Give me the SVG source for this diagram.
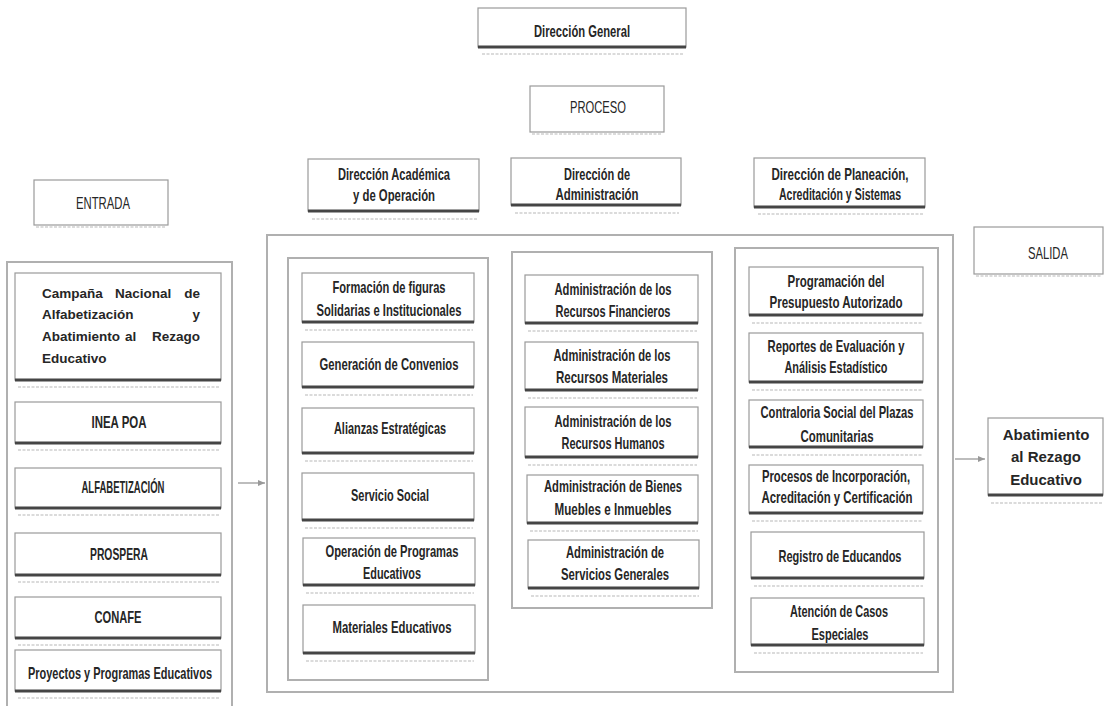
<svg xmlns="http://www.w3.org/2000/svg" width="1105" height="706" viewBox="0 0 1105 706">
<style>
.bg{fill:#ffffff}
.box{fill:#ffffff;stroke:#9a9a9a;stroke-width:1.2}
.sh{stroke:#454545;stroke-width:3}
.fl{stroke:#cfcfcf;stroke-width:1.3;stroke-dasharray:3 1.5}
.cont{fill:none;stroke:#b0b0b0;stroke-width:2}
.t{font-family:"Liberation Sans Narrow","Liberation Sans",Arial,sans-serif;font-size:16.5px;font-weight:bold;fill:#262626;text-anchor:middle}
.n{font-weight:normal}
.s{text-anchor:start;font-size:13.5px}
.e{text-anchor:end;font-size:13.5px}
.a{font-size:15px}
.arr{stroke:#999999;stroke-width:1.3;fill:none}
</style>
<defs>
<marker id="ah" markerWidth="8" markerHeight="8" refX="7" refY="4" orient="auto" markerUnits="userSpaceOnUse">
<path d="M0,1 L7,4 L0,7 Z" fill="#999999"/>
</marker>
</defs>
<rect class="bg" x="0" y="0" width="1105" height="706"/>

<g id="containers">
<rect class="cont" x="7" y="262" width="225" height="452"/>
<rect class="cont" x="267" y="235" width="686" height="457"/>
<rect class="cont" x="288" y="258" width="200" height="422"/>
<rect class="cont" x="512" y="252" width="200" height="356"/>
<rect class="cont" x="735" y="248" width="203" height="424"/>
</g>

<g id="direccion-general">
<rect class="box" x="478" y="8" width="208" height="39"/>
<line class="sh" x1="478" y1="47" x2="686" y2="47"/>
<line class="fl" x1="482" y1="54" x2="684" y2="54"/>
<text class="t" x="582" y="37" textLength="96" lengthAdjust="spacingAndGlyphs">Dirección General</text>
</g>

<g id="proceso">
<rect class="box" x="530" y="86" width="134" height="46"/>
<line class="fl" x1="532" y1="134" x2="662" y2="134"/>
<text class="t n" x="598" y="113" textLength="56" lengthAdjust="spacingAndGlyphs">PROCESO</text>
</g>

<g id="entrada">
<rect class="box" x="34" y="180" width="134" height="45"/>
<line class="fl" x1="36" y1="227" x2="166" y2="227"/>
<text class="t n" x="103" y="209" textLength="54" lengthAdjust="spacingAndGlyphs">ENTRADA</text>
</g>

<g id="salida">
<rect class="box" x="974" y="227" width="129" height="47"/>
<line class="fl" x1="976" y1="276" x2="1101" y2="276"/>
<text class="t n" x="1048" y="259" textLength="40" lengthAdjust="spacingAndGlyphs">SALIDA</text>
</g>

<g id="dir-academica">
<rect class="box" x="308" y="159" width="171" height="52"/>
<line class="sh" x1="308" y1="211" x2="479" y2="211"/>
<line class="fl" x1="312" y1="219" x2="477" y2="219"/>
<text class="t" x="394" y="180" textLength="112" lengthAdjust="spacingAndGlyphs">Dirección Académica</text>
<text class="t" x="394" y="201" textLength="82" lengthAdjust="spacingAndGlyphs">y de Operación</text>
</g>

<g id="dir-administracion">
<rect class="box" x="511" y="158" width="170" height="47"/>
<line class="sh" x1="511" y1="205" x2="681" y2="205"/>
<line class="fl" x1="515" y1="213" x2="679" y2="213"/>
<text class="t" x="597" y="180" textLength="66" lengthAdjust="spacingAndGlyphs">Dirección de</text>
<text class="t" x="597" y="200" textLength="83" lengthAdjust="spacingAndGlyphs">Administración</text>
</g>

<g id="dir-planeacion">
<rect class="box" x="754" y="158" width="171" height="49"/>
<line class="sh" x1="754" y1="207" x2="925" y2="207"/>
<line class="fl" x1="758" y1="214" x2="923" y2="214"/>
<text class="t" x="840" y="180" textLength="137" lengthAdjust="spacingAndGlyphs">Dirección de Planeación,</text>
<text class="t" x="840" y="200" textLength="122" lengthAdjust="spacingAndGlyphs">Acreditación y Sistemas</text>
</g>

<!-- Left column (ENTRADA items) -->
<g id="campana">
<rect class="box" x="15" y="273" width="206" height="107"/>
<line class="sh" x1="15" y1="380" x2="221" y2="380"/>
<line class="fl" x1="18" y1="387" x2="220" y2="387"/>
<text class="t s" x="42" y="298">Campaña</text>
<text class="t s" x="115" y="298">Nacional</text>
<text class="t e" x="200" y="298">de</text>
<text class="t s" x="42" y="319">Alfabetización</text>
<text class="t e" x="200" y="319">y</text>
<text class="t s" x="42" y="341">Abatimiento</text>
<text class="t s" x="125" y="341">al</text>
<text class="t e" x="200" y="341">Rezago</text>
<text class="t s" x="42" y="363">Educativo</text>
</g>

<g id="inea-poa">
<rect class="box" x="15" y="402" width="206" height="41"/>
<line class="sh" x1="15" y1="443" x2="221" y2="443"/>
<line class="fl" x1="18" y1="450" x2="220" y2="450"/>
<text class="t" x="119" y="428" textLength="55" lengthAdjust="spacingAndGlyphs">INEA POA</text>
</g>

<g id="alfabetizacion">
<rect class="box" x="15" y="468" width="206" height="40"/>
<line class="sh" x1="15" y1="508" x2="221" y2="508"/>
<line class="fl" x1="18" y1="515" x2="220" y2="515"/>
<text class="t" x="123" y="493" textLength="83" lengthAdjust="spacingAndGlyphs">ALFABETIZACIÓN</text>
</g>

<g id="prospera">
<rect class="box" x="15" y="533" width="206" height="42"/>
<line class="sh" x1="15" y1="575" x2="221" y2="575"/>
<line class="fl" x1="18" y1="582" x2="220" y2="582"/>
<text class="t" x="119" y="560" textLength="58" lengthAdjust="spacingAndGlyphs">PROSPERA</text>
</g>

<g id="conafe">
<rect class="box" x="15" y="597" width="206" height="41"/>
<line class="sh" x1="15" y1="638" x2="221" y2="638"/>
<line class="fl" x1="18" y1="645" x2="220" y2="645"/>
<text class="t" x="118" y="623" textLength="47" lengthAdjust="spacingAndGlyphs">CONAFE</text>
</g>

<g id="proyectos">
<rect class="box" x="15" y="650" width="206" height="41"/>
<line class="sh" x1="15" y1="691" x2="221" y2="691"/>
<line class="fl" x1="18" y1="698" x2="220" y2="698"/>
<text class="t" x="120" y="679" textLength="184" lengthAdjust="spacingAndGlyphs">Proyectos y Programas Educativos</text>
</g>

<!-- Column 1 -->
<g id="formacion">
<rect class="box" x="302" y="273" width="172" height="49"/>
<line class="sh" x1="302" y1="322" x2="474" y2="322"/>
<line class="fl" x1="305" y1="330" x2="473" y2="330"/>
<text class="t" x="389" y="293" textLength="113" lengthAdjust="spacingAndGlyphs">Formación de figuras</text>
<text class="t" x="389" y="316" textLength="145" lengthAdjust="spacingAndGlyphs">Solidarias e Institucionales</text>
</g>
<g id="generacion">
<rect class="box" x="302" y="342" width="172" height="45"/>
<line class="sh" x1="302" y1="387" x2="474" y2="387"/>
<line class="fl" x1="305" y1="395" x2="473" y2="395"/>
<text class="t" x="389" y="370" textLength="139" lengthAdjust="spacingAndGlyphs">Generación de Convenios</text>
</g>
<g id="alianzas">
<rect class="box" x="302" y="408" width="172" height="45"/>
<line class="sh" x1="302" y1="453" x2="474" y2="453"/>
<line class="fl" x1="305" y1="461" x2="473" y2="461"/>
<text class="t" x="390" y="434" textLength="112" lengthAdjust="spacingAndGlyphs">Alianzas Estratégicas</text>
</g>
<g id="servicio-social">
<rect class="box" x="302" y="473" width="172" height="47"/>
<line class="sh" x1="302" y1="520" x2="474" y2="520"/>
<line class="fl" x1="305" y1="528" x2="473" y2="528"/>
<text class="t" x="390" y="501" textLength="78" lengthAdjust="spacingAndGlyphs">Servicio Social</text>
</g>
<g id="operacion">
<rect class="box" x="303" y="538" width="172" height="47"/>
<line class="sh" x1="303" y1="585" x2="475" y2="585"/>
<line class="fl" x1="306" y1="593" x2="474" y2="593"/>
<text class="t" x="392" y="557" textLength="133" lengthAdjust="spacingAndGlyphs">Operación de Programas</text>
<text class="t" x="392" y="579" textLength="58" lengthAdjust="spacingAndGlyphs">Educativos</text>
</g>
<g id="materiales">
<rect class="box" x="303" y="605" width="172" height="48"/>
<line class="sh" x1="303" y1="653" x2="475" y2="653"/>
<line class="fl" x1="306" y1="661" x2="474" y2="661"/>
<text class="t" x="392" y="633" textLength="119" lengthAdjust="spacingAndGlyphs">Materiales Educativos</text>
</g>

<!-- Column 2 -->
<g id="adm-financieros">
<rect class="box" x="525" y="275" width="173" height="48"/>
<line class="sh" x1="525" y1="323" x2="698" y2="323"/>
<line class="fl" x1="528" y1="331" x2="697" y2="331"/>
<text class="t" x="613" y="295" textLength="117" lengthAdjust="spacingAndGlyphs">Administración de los</text>
<text class="t" x="613" y="317" textLength="115" lengthAdjust="spacingAndGlyphs">Recursos Financieros</text>
</g>
<g id="adm-materiales">
<rect class="box" x="525" y="342" width="173" height="48"/>
<line class="sh" x1="525" y1="390" x2="698" y2="390"/>
<line class="fl" x1="528" y1="398" x2="697" y2="398"/>
<text class="t" x="612" y="361" textLength="117" lengthAdjust="spacingAndGlyphs">Administración de los</text>
<text class="t" x="612" y="383" textLength="112" lengthAdjust="spacingAndGlyphs">Recursos Materiales</text>
</g>
<g id="adm-humanos">
<rect class="box" x="525" y="407" width="173" height="50"/>
<line class="sh" x1="525" y1="457" x2="698" y2="457"/>
<line class="fl" x1="528" y1="465" x2="697" y2="465"/>
<text class="t" x="613" y="427" textLength="117" lengthAdjust="spacingAndGlyphs">Administración de los</text>
<text class="t" x="613" y="449" textLength="103" lengthAdjust="spacingAndGlyphs">Recursos Humanos</text>
</g>
<g id="adm-bienes">
<rect class="box" x="527" y="475" width="171" height="48"/>
<line class="sh" x1="527" y1="523" x2="698" y2="523"/>
<line class="fl" x1="530" y1="531" x2="698" y2="531"/>
<text class="t" x="613" y="492" textLength="138" lengthAdjust="spacingAndGlyphs">Administración de Bienes</text>
<text class="t" x="613" y="515" textLength="117" lengthAdjust="spacingAndGlyphs">Muebles e Inmuebles</text>
</g>
<g id="adm-servicios">
<rect class="box" x="528" y="540" width="171" height="48"/>
<line class="sh" x1="528" y1="588" x2="699" y2="588"/>
<line class="fl" x1="531" y1="596" x2="699" y2="596"/>
<text class="t" x="615" y="558" textLength="98" lengthAdjust="spacingAndGlyphs">Administración de</text>
<text class="t" x="615" y="580" textLength="108" lengthAdjust="spacingAndGlyphs">Servicios Generales</text>
</g>

<!-- Column 3 -->
<g id="programacion">
<rect class="box" x="749" y="267" width="174" height="48"/>
<line class="sh" x1="749" y1="315" x2="923" y2="315"/>
<line class="fl" x1="752" y1="323" x2="922" y2="323"/>
<text class="t" x="836" y="287" textLength="97" lengthAdjust="spacingAndGlyphs">Programación del</text>
<text class="t" x="836" y="308" textLength="133" lengthAdjust="spacingAndGlyphs">Presupuesto Autorizado</text>
</g>
<g id="reportes">
<rect class="box" x="749" y="333" width="174" height="49"/>
<line class="sh" x1="749" y1="382" x2="923" y2="382"/>
<line class="fl" x1="752" y1="390" x2="922" y2="390"/>
<text class="t" x="836" y="352" textLength="137" lengthAdjust="spacingAndGlyphs">Reportes de Evaluación y</text>
<text class="t" x="836" y="373" textLength="103" lengthAdjust="spacingAndGlyphs">Análisis Estadístico</text>
</g>
<g id="contraloria">
<rect class="box" x="749" y="400" width="174" height="47"/>
<line class="sh" x1="749" y1="447" x2="923" y2="447"/>
<line class="fl" x1="752" y1="455" x2="922" y2="455"/>
<text class="t" x="837" y="418" textLength="153" lengthAdjust="spacingAndGlyphs">Contraloria Social del Plazas</text>
<text class="t" x="837" y="442" textLength="73" lengthAdjust="spacingAndGlyphs">Comunitarias</text>
</g>
<g id="procesos">
<rect class="box" x="749" y="465" width="174" height="48"/>
<line class="sh" x1="749" y1="513" x2="923" y2="513"/>
<line class="fl" x1="752" y1="521" x2="922" y2="521"/>
<text class="t" x="836" y="482" textLength="148" lengthAdjust="spacingAndGlyphs">Procesos de Incorporación,</text>
<text class="t" x="837" y="503" textLength="151" lengthAdjust="spacingAndGlyphs">Acreditación y Certificación</text>
</g>
<g id="registro">
<rect class="box" x="751" y="532" width="173" height="46"/>
<line class="sh" x1="751" y1="578" x2="924" y2="578"/>
<line class="fl" x1="754" y1="586" x2="923" y2="586"/>
<text class="t" x="840" y="562" textLength="123" lengthAdjust="spacingAndGlyphs">Registro de Educandos</text>
</g>
<g id="atencion">
<rect class="box" x="751" y="598" width="173" height="47"/>
<line class="sh" x1="751" y1="645" x2="924" y2="645"/>
<line class="fl" x1="754" y1="653" x2="923" y2="653"/>
<text class="t" x="839" y="617" textLength="98" lengthAdjust="spacingAndGlyphs">Atención de Casos</text>
<text class="t" x="840" y="640" textLength="57" lengthAdjust="spacingAndGlyphs">Especiales</text>
</g>

<g id="abatimiento">
<rect class="box" x="988" y="418" width="115" height="77"/>
<line class="sh" x1="988" y1="495" x2="1103" y2="495"/>
<line class="fl" x1="991" y1="503" x2="1102" y2="503"/>
<text class="t a" x="1046" y="440">Abatimiento</text>
<text class="t a" x="1046" y="462">al Rezago</text>
<text class="t a" x="1046" y="485">Educativo</text>
</g>

<g id="connectors">
<line class="arr" x1="238" y1="483" x2="265" y2="483" marker-end="url(#ah)"/>
<line class="arr" x1="955" y1="459" x2="985" y2="459" marker-end="url(#ah)"/>
</g>
</svg>
